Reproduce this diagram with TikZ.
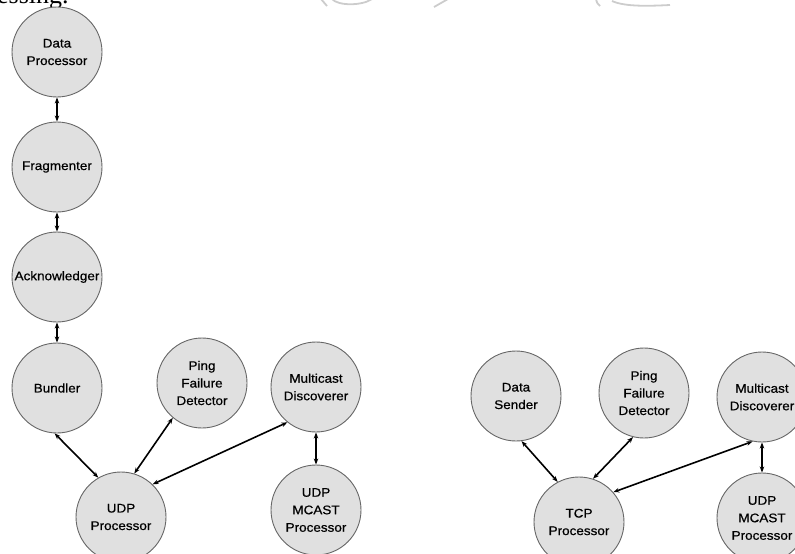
\documentclass[tikz,border=0pt]{standalone}
\usepackage{fontspec}
\setmainfont{Liberation Sans}
\newfontfamily\labelfont[FakeStretch=1.08,FakeBold=0.6]{Liberation Sans}
\newfontfamily\serifcut{Liberation Serif}
\usetikzlibrary{arrows.meta}
\begin{document}
\begin{tikzpicture}[x=1pt,y=-1pt,
  proc/.style={circle, draw=black!60, line width=0.9pt, fill=black!12,
    minimum size=90pt, inner sep=0pt, align=center,
    font=\labelfont\fontsize{12.5}{17.5}\selectfont},
  link/.style={{Stealth[length=6pt,width=4.5pt]}-{Stealth[length=6pt,width=4.5pt]},
    line width=1.6pt},
  wmark/.style={draw=black!20, line width=1.8pt}
]
\useasboundingbox (0,0) rectangle (795,554);

% cut-off text and faint watermark at the top edge
\node[anchor=base west, inner sep=0pt, font=\serifcut\fontsize{26}{26}\selectfont] (cut) at (-3,4) {essing.};
\draw[wmark] (321,-1) -- (327,6);
\draw[wmark] (332,-1) .. controls (338,6) and (362,6) .. (372,-1);
\draw[wmark] (448,-1) -- (434,7);
\draw[wmark] (596,-1) .. controls (597,3) .. (600,6);
\draw[wmark] (612,1) .. controls (625,7) and (650,6) .. (670,5);

% left group
\node[proc] (dp)   at (57,52)  {Data\\Processor};
\node[proc] (frag) at (57,167) {Fragmenter};
\node[proc] (ack)  at (57,277) {Acknowledger};
\node[proc] (bund) at (57,388) {Bundler};
\node[proc] (pingL) at (202,383) {Ping\\Failure\\Detector};
\node[proc] (mcL)  at (316,387) {Multicast\\Discoverer};
\node[proc] (udp)  at (121,517) {UDP\\Processor};
\node[proc] (mcastL) at (316,510) {UDP\\MCAST\\Processor};

\draw[link] (dp.south) -- (frag.north);
\draw[link] (frag.south) -- (ack.north);
\draw[link] (ack.south) -- (bund.north);
\draw[link] (bund.267) -- (udp.120);
\draw[link] (pingL.230) -- (udp.73);
\draw[link] (mcL.231) -- (udp.46);
\draw[link] (mcL.south) -- (mcastL.north);

% right group
\node[proc] (ds)   at (516,396) {Data\\Sender};
\node[proc] (pingR) at (644,393) {Ping\\Failure\\Detector};
\node[proc] (mcR)  at (762,397) {Multicast\\Discoverer};
\node[proc] (tcp)  at (579,522) {TCP\\Processor};
\node[proc] (mcastR) at (762,518) {UDP\\MCAST\\Processor};

\draw[link] (ds.277) -- (tcp.118);
\draw[link] (pingR.256) -- (tcp.72);
\draw[link] (mcR.258) -- (tcp.41);
\draw[link] (mcR.south) -- (mcastR.north);
\end{tikzpicture}
\end{document}
